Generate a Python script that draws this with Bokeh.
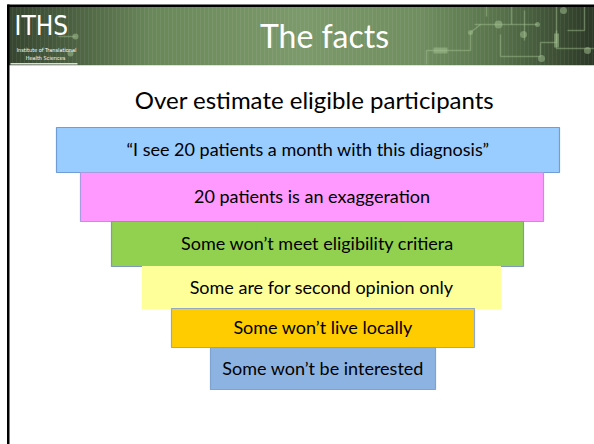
import numpy as np
from bokeh.plotting import figure
from bokeh.models import Range1d, ColumnDataSource
from bokeh.embed import file_html
from bokeh.resources import INLINE
from bokeh.core.properties import value

# ---------------- data ----------------
slide_title = "The facts"
subtitle = "Over estimate eligible participants"
logo_text = "ITHS"
logo_sub1 = "Institute of Translational"
logo_sub2 = "Health Sciences"
stages = [
    "\u201cI see 20 patients a month with this diagnosis\u201d",
    "20 patients is an exaggeration",
    "Some won\u2019t meet eligibility critiera",
    "Some are for second opinion only",
    "Some won\u2019t live locally",
    "Some won\u2019t be interested",
]
stage_widths = [503, 463, 412, 358, 303, 225]

# ---------------- layout / style ----------------
stage_heights = [45, 49, 45, 42, 39, 42]
stage_centers = [307.5, 311.5, 317, 321, 322.5, 322.5]
stage_fill = ["#99CCFF", "#FF99FF", "#92D050", "#FFFF99", "#FFCC00", "#8DB3E2"]
stage_line = ["#6F9DD6", "#A89BE2", "#7F99BD", "#FFFF99", "#93A8C6", "#7FA3D1"]
funnel_top = 127
condensed = value("DejaVu Sans Condensed, Roboto")

W, H = 594, 444
p = figure(width=W, height=H, x_range=Range1d(0, W), y_range=Range1d(H, 0),
           output_backend="svg", toolbar_location=None,
           x_axis_type=None, y_axis_type=None, min_border=0,
           outline_line_color=None, background_fill_color="white",
           border_fill_color="white")
p.grid.visible = False

# header gradient band
stop_x = [8, 60, 150, 300, 420, 500, 594]
stop_c = [(0x36, 0x45, 0x30), (0x48, 0x5C, 0x3E), (0x6A, 0x87, 0x5A), (0x7C, 0x9A, 0x6B),
          (0x70, 0x8E, 0x60), (0x58, 0x73, 0x4B), (0x2B, 0x38, 0x26)]
edges = np.arange(8, W + 4, 4)
mids = (edges[:-1] + edges[1:]) / 2
cols = []
for m in mids:
    r = int(np.interp(m, stop_x, [c[0] for c in stop_c]))
    g = int(np.interp(m, stop_x, [c[1] for c in stop_c]))
    b = int(np.interp(m, stop_x, [c[2] for c in stop_c]))
    cols.append("#%02x%02x%02x" % (r, g, b))
p.quad(left=edges[:-1], right=edges[1:], top=6, bottom=64.5, fill_color=cols, line_color=cols, line_width=0.5)

# circuit decoration
deco_color = "#A5C493"
paths_x = [[474, 537], [511, 511], [524, 524], [500, 500, 540, 540, 556, 556],
           [556, 556, 594], [567, 584, 584], [426, 426, 470, 470, 480],
           [58, 75], [486, 486]]
paths_y = [[24, 24], [6, 24], [10, 40], [34, 56, 56, 42, 42, 6],
           [30, 48, 48], [30, 30, 6], [64, 50, 50, 32, 24],
           [36, 36], [6, 16]]
p.multi_line(xs=paths_x, ys=paths_y, line_color=deco_color, line_alpha=0.45, line_width=1.5)
p.scatter(x=[498, 537, 523, 563, 587, 541, 75, 70, 470],
          y=[24, 24, 34, 10, 50, 58, 36, 53, 32],
          size=[8, 5, 7, 7, 7, 7, 6, 6, 5],
          fill_color=deco_color, line_color=None, fill_alpha=0.5)
p.rect(x=[556, 440], y=[40, 50], width=[5, 14], height=[14, 6],
       fill_color=deco_color, line_color=None, fill_alpha=0.5)

# slide borders
p.quad(left=7, right=W, top=4, bottom=6.5, fill_color="black", line_color=None)
p.quad(left=6.5, right=9, top=4, bottom=H, fill_color="black", line_color=None)
p.quad(left=10, right=77, top=62.5, bottom=64, fill_color="#DDDDDD", line_color=None)

# logo
p.text(x=[14], y=[25], text=[logo_text], text_color="white", text_align="left",
       text_baseline="middle", text_font=condensed, text_font_size="26px")
p.text(x=[46, 45], y=[49, 57], text=[logo_sub1, logo_sub2], text_color="white", text_align="center",
       text_baseline="middle", text_font=condensed, text_font_size="5.5px")

# title
p.text(x=[324], y=[34.5], text=[slide_title], text_color="white", text_align="center",
       text_baseline="middle", text_font=value("Lato"), text_font_size="32px")

# subtitle
p.text(x=[314], y=[98.5], text=[subtitle], text_color="black", text_align="center",
       text_baseline="middle", text_font=value("Lato"), text_font_size="24px")

# funnel boxes
tops = np.concatenate([[funnel_top], funnel_top + np.cumsum(stage_heights)[:-1]])
bottoms = tops + np.array(stage_heights)
lefts = np.array(stage_centers) - np.array(stage_widths) / 2
rights = np.array(stage_centers) + np.array(stage_widths) / 2
src = ColumnDataSource(dict(left=lefts, right=rights, top=tops, bottom=bottoms,
                            fill=stage_fill, line=stage_line, label=stages,
                            cx=stage_centers, ty=(tops + bottoms) / 2 - 1))
p.quad(left="left", right="right", top="top", bottom="bottom", fill_color="fill",
       line_color="line", line_width=1.2, source=src)
p.text(x="cx", y="ty", text="label", text_align="center", text_baseline="middle",
       text_color="black", text_font=value("Lato"), text_font_size="18px", source=src)

open("out.html", "w").write(file_html(p, INLINE))
